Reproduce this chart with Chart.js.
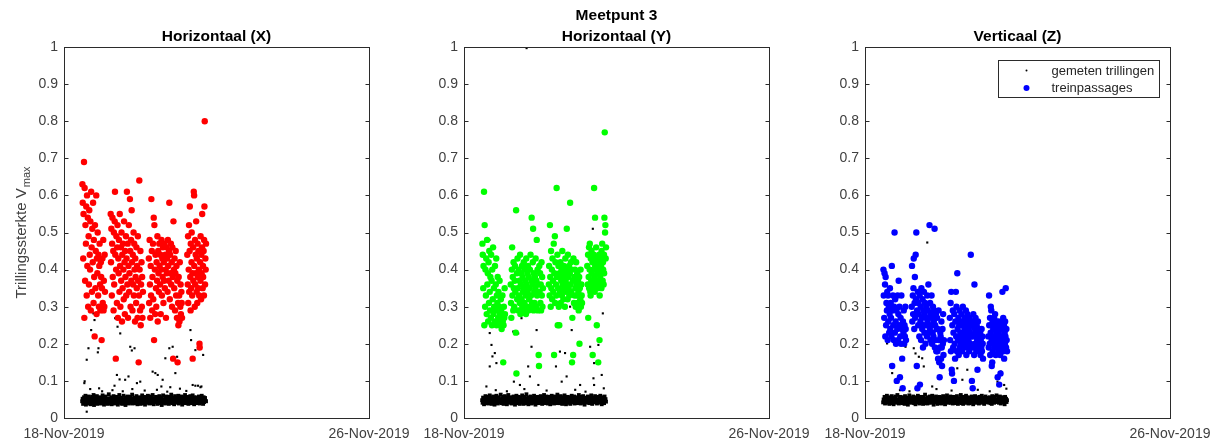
<!DOCTYPE html>
<html>
<head>
<meta charset="utf-8">
<title>Meetpunt 3</title>
<script src="https://cdn.jsdelivr.net/npm/chart.js@4.4.1/dist/chart.umd.min.js"></script>
<style>
  body { margin: 0; background: #fff; }
  #wrap { position: relative; width: 1223px; height: 445px; }
  #wrap canvas { position: absolute; left: 0; top: 0; }
</style>
</head>
<body>
<div id="wrap">
  <canvas id="panelX" width="1223" height="445"></canvas>
  <canvas id="panelY" width="1223" height="445"></canvas>
  <canvas id="panelZ" width="1223" height="445"></canvas>
</div>
<script>
// time axis in hours after 18-Nov-2019 00:00
const datumUren = [0, 192];
const datumLabels = ['18-Nov-2019', '26-Nov-2019'];

// continuous measurement: one Vmax value every 0.3 h, in 0.001 mm/s
const meetStart = 11.4;
const meetStap = 0.3;

const gemetenX = [
  45,52,38,49,56,41,47,60,36,50,44,55,39,48,58,42,46,53,37,51,
  43,57,40,49,62,35,47,54,41,50,45,59,38,52,44,48,56,40,46,53,
  39,51,47,61,42,55,36,49,45,58,41,50,44,53,38,47,64,43,52,40,
  48,56,37,45,51,42,59,46,39,54,47,41,57,44,50,36,53,48,62,43,
  46,52,40,55,38,49,45,60,42,51,47,35,56,44,50,41,58,46,39,53,
  44,50,57,41,48,63,39,52,45,47,55,40,49,43,59,46,37,51,44,54,
  42,56,48,38,53,45,61,40,50,46,57,43,36,52,47,55,41,49,60,44,
  51,39,47,58,43,54,46,40,62,48,37,53,45,50,42,57,44,49,38,55,
  47,43,59,40,52,46,56,35,49,44,61,42,51,48,39,54,45,58,41,50,
  53,46,38,57,44,50,42,63,47,40,55,45,52,37,49,59,43,48,54,41,
  45,51,60,39,47,56,42,50,44,58,36,53,48,41,55,46,62,40,49,52,
  43,57,46,38,54,49,41,59,45,52,40,47,61,44,50,37,56,48,42,53,
  47,55,40,51,44,58,46,39,53,48,42,60,45,50,38,56,43,49,54,46,
  45
];
const gemetenY = [
  48,41,55,44,37,52,46,59,40,50,43,57,47,39,53,45,61,42,49,54,
  38,51,46,58,43,49,36,55,47,41,60,44,52,39,48,56,42,50,45,63,
  47,40,53,45,57,38,50,44,59,42,48,54,37,51,46,62,41,49,55,43,
  52,45,39,56,48,42,58,46,51,36,54,44,60,40,47,53,43,57,49,38,
  44,55,47,41,61,45,50,38,53,46,57,42,49,64,40,52,45,37,56,48,
  50,43,58,46,39,54,47,52,41,60,44,49,36,55,48,42,57,45,51,40,
  46,53,41,59,44,48,38,56,50,43,62,46,40,53,47,58,42,51,39,55,
  43,57,49,37,52,45,60,41,48,54,44,39,58,46,51,42,56,47,63,40,
  51,44,55,40,48,59,43,50,38,56,46,53,41,61,45,49,37,54,47,42,
  57,46,41,53,49,38,55,44,60,47,42,52,45,58,39,50,48,43,56,46,
  40,54,47,62,43,51,45,39,57,48,53,41,59,44,50,36,55,46,52,42,
  49,45,58,41,53,47,40,56,44,61,46,38,52,48,55,43,50,59,42,47,
  54,39,50,46,57,43,48,41,60,45,52,37,56,49,44,53,40,58,47,51,
  44
];
const gemetenZ = [
  42,50,46,57,39,53,44,48,60,41,51,45,56,38,49,54,43,47,59,40,
  52,45,37,55,48,43,58,46,50,41,62,44,49,39,53,47,57,42,51,46,
  40,56,48,44,53,38,59,45,50,42,55,47,36,52,46,61,43,49,54,41,
  47,51,43,58,45,40,54,49,37,56,44,52,46,60,41,48,53,39,57,45,
  55,42,49,46,38,57,44,51,63,40,48,53,45,39,56,47,42,50,58,44,
  41,53,47,60,43,50,36,55,46,49,42,58,45,52,38,54,48,44,57,40,
  49,44,56,39,51,46,59,42,48,53,37,55,47,43,61,45,50,41,54,48,
  46,58,41,50,45,54,39,57,44,48,52,40,56,47,43,59,46,38,53,49,
  43,51,47,62,40,55,45,49,38,57,46,42,53,48,60,41,50,44,56,39,
  52,46,40,54,48,43,58,45,51,37,56,47,42,59,44,49,53,41,55,46,
  48,39,57,44,52,46,41,60,47,50,43,55,38,53,45,58,42,49,46,54,
  45,53,42,49,56,40,51,47,38,59,44,52,48,41,57,46,50,43,61,47,
  50,44,55,41,48,58,45,39,53,47,42,56,49,44,51,37,57,46,52,43,
  48
];

// measured values outside the background band [hour, mm/s]
const piekenX = [
  [12.8,.094],[15.4,.188],[21.7,.188],[14.3,.157],[21.3,.177],[22.1,.080],[18.5,.282],[19.2,.264],[17.1,.237],[13.0,.099],
  [32.2,.269],[33.7,.246],[35.4,.228],[41.7,.192],[44.4,.188],[42.7,.182],[40.6,.112],[33.3,.116],[35.0,.104],[38.5,.103],
  [31.8,.087],[45.9,.094],[48.0,.098],[55.8,.125],[57.5,.121],[59.0,.116],[62.1,.103],[63.8,.161],[66.3,.188],[68.4,.192],
  [71.2,.165],[70.1,.121],[66.9,.083],[61.3,.085],[79.6,.237],[80.0,.210],[82.7,.183],[85.3,.188],[87.6,.170],[81.0,.089],
  [82.7,.087],[84.4,.087],[85.9,.083],[14.3,.017],[16.5,.078],[24.0,.072],[30.5,.075],[37.0,.072],[43.0,.078],[50.8,.074],
  [58.5,.076],[65.0,.071],[73.0,.079],[77.0,.073],[86.5,.085]
];
const piekenY = [
  [16.2,.229],[17.3,.197],[19.4,.175],[20.4,.148],[16.2,.139],[17.9,.166],[14.1,.085],[16.0,.480],[12.9,.440],
  [31.0,.233],[34.1,.228],[36.2,.269],[42.5,.192],[40.4,.139],[41.5,.112],[45.7,.237],[31.4,.098],[35.2,.089],[46.8,.089],[39.4,.997],
  [60.4,.179],[63.6,.175],[67.8,.237],[66.8,.300],[57.9,.139],[64.6,.112],[73.1,.089],[61.5,.098],
  [79.4,.192],[84.6,.197],[81.9,.148],[86.7,.116],[81.5,.107],[81.9,.089],[79.4,.327],[87.4,.282],[81.1,.510],
  [20.0,.075],[27.0,.072],[38.0,.078],[52.0,.074],[70.0,.076],[76.5,.071],[88.0,.080]
];
const piekenZ = [
  [39.2,.473],[16.0,.143],[17.1,.121],[19.2,.098],[30.7,.188],[31.8,.174],[33.9,.165],[36.0,.161],[37.0,.139],[42.3,.085],
  [58.1,.134],[59.2,.165],[64.4,.130],[61.3,.103],[67.6,.080],[80.2,.139],[83.4,.098],[87.6,.089],[85.5,.125],[13.9,.201],
  [25.5,.192],[22.0,.075],[28.0,.072],[45.0,.078],[54.5,.074],[71.0,.076],[78.5,.072],[89.0,.079]
];

// detected train passages: time (h) and Vmax per direction (mm/s)
const passageUren = [
  11.6,11.8,12.1,12.3,12.6,12.8,13.0,13.3,13.5,13.8,
  14.0,14.3,14.5,14.7,15.0,15.2,15.5,15.7,15.9,16.2,
  16.4,16.6,16.9,17.1,17.4,17.6,17.8,18.1,18.3,18.6,
  18.8,19.0,19.3,19.5,19.8,20.0,20.3,20.5,20.7,21.0,
  21.2,21.5,21.7,22.0,22.2,22.4,22.7,22.9,23.2,23.4,
  23.7,23.9,24.2,24.4,24.7,24.9,25.1,25.4,25.6,25.8,
  29.4,29.6,29.8,30.1,30.3,30.5,30.7,31.0,31.2,31.4,
  31.6,31.9,32.1,32.3,32.6,32.8,33.0,33.3,33.5,33.7,
  33.9,34.2,34.4,34.6,34.9,35.1,35.3,35.5,35.8,36.0,
  36.2,36.5,36.7,36.9,37.1,37.4,37.6,37.8,38.1,38.3,
  38.5,38.7,39.0,39.2,39.4,39.6,39.9,40.1,40.3,40.6,
  40.8,41.0,41.2,41.5,41.7,41.9,42.2,42.4,42.6,42.8,
  43.1,43.3,43.5,43.8,44.0,44.2,44.4,44.7,44.9,45.1,
  45.4,45.6,45.8,46.0,46.3,46.5,46.7,47.0,47.2,47.4,
  47.6,47.9,48.1,48.3,48.5,48.8,49.0,49.2,49.4,49.7,
  53.4,53.6,53.9,54.1,54.3,54.6,54.8,55.0,55.3,55.5,
  55.7,56.0,56.2,56.5,56.7,56.9,57.2,57.4,57.6,57.9,
  58.1,58.3,58.6,58.8,59.0,59.3,59.5,59.7,60.0,60.2,
  60.5,60.7,60.9,61.2,61.4,61.6,61.9,62.1,62.3,62.6,
  62.8,63.0,63.3,63.5,63.8,64.0,64.2,64.5,64.7,64.9,
  65.2,65.4,65.6,65.9,66.1,66.3,66.6,66.8,67.0,67.3,
  67.5,67.8,68.0,68.2,68.5,68.7,68.9,69.2,69.4,69.6,
  69.9,70.1,70.3,70.6,70.8,71.1,71.3,71.5,71.8,72.0,
  72.2,72.5,72.7,72.9,73.2,73.4,73.6,73.9,74.1,74.3,
  77.6,77.9,78.1,78.2,78.5,78.7,78.8,79.1,79.2,79.5,
  79.7,79.8,80.1,80.3,80.4,80.7,80.9,81.0,81.3,81.4,
  81.7,81.9,82.0,82.3,82.5,82.6,82.9,83.1,83.2,83.5,
  83.6,83.9,84.1,84.2,84.5,84.6,84.9,85.1,85.3,85.4,
  85.7,85.9,86.0,86.3,86.5,86.6,86.9,87.0,87.3,87.5,
  87.6,87.9,88.1,88.2,88.4,88.6,88.8,89.0,89.2,89.4
];
const passageX = [
  .63,.58,.43,.55,.69,.27,.62,.37,.52,.47,
  .57,.33,.60,.41,.54,.30,.49,.36,.56,.44,
  .40,.53,.29,.61,.46,.34,.51,.42,.58,.31,
  .48,.38,.22,.52,.35,.45,.60,.28,.43,.39,
  .50,.33,.44,.30,.41,.47,.36,.29,.42,.38,
  .21,.35,.43,.31,.48,.29,.37,.30,.44,.34,
  .55,.42,.51,.33,.47,.54,.38,.45,.29,.50,
  .36,.53,.61,.44,.16,.40,.49,.31,.46,.52,
  .27,.43,.39,.48,.34,.55,.41,.30,.46,.37,
  .50,.26,.44,.35,.47,.40,.32,.53,.42,.28,
  .45,.38,.49,.33,.43,.61,.36,.47,.27,.41,
  .52,.34,.39,.59,.45,.30,.48,.37,.56,.42,
  .29,.44,.36,.50,.33,.47,.40,.26,.43,.38,
  .31,.46,.35,.41,.27,.49,.37,.15,.33,.64,
  .40,.29,.45,.25,.36,.42,.30,.38,.27,.34,
  .43,.31,.48,.36,.27,.41,.33,.59,.45,.29,
  .38,.47,.32,.54,.21,.52,.40,.28,.44,.35,
  .30,.42,.37,.49,.26,.45,.39,.34,.47,.41,
  .36,.44,.28,.40,.48,.33,.43,.38,.46,.31,
  .42,.37,.47,.35,.44,.40,.27,.46,.39,.43,
  .34,.48,.41,.37,.45,.58,.32,.44,.39,.47,
  .36,.42,.30,.46,.38,.16,.53,.40,.35,.43,
  .29,.39,.45,.33,.41,.27,.37,.15,.31,.25,
  .38,.33,.26,.42,.30,.36,.28,.34,.31,.27,
  .44,.36,.49,.31,.40,.52,.34,.45,.57,.38,
  .29,.47,.35,.42,.50,.33,.39,.16,.46,.37,
  .61,.60,.41,.30,.48,.36,.44,.39,.53,.34,
  .43,.31,.47,.38,.35,.45,.40,.33,.20,.19,
  .42,.37,.49,.32,.44,.39,.46,.55,.35,.41,
  .38,.45,.33,.48,.57,.80,.36,.43,.40,.47
];
const passageY = [
  .47,.44,.35,.41,.61,.25,.52,.30,.40,.33,
  .43,.28,.48,.36,.39,.26,.42,.31,.45,.34,
  .29,.38,.27,.44,.37,.25,.40,.32,.46,.28,
  .35,.30,.26,.41,.29,.36,.43,.25,.33,.31,
  .38,.27,.34,.26,.30,.37,.28,.25,.32,.29,
  .24,.27,.33,.26,.15,.25,.30,.27,.35,.28,
  .36,.31,.27,.40,.46,.33,.38,.29,.42,.35,
  .30,.37,.41,.34,.23,.56,.12,.39,.32,.43,
  .35,.29,.40,.33,.37,.31,.44,.28,.36,.39,
  .32,.41,.30,.38,.34,.29,.42,.35,.31,.40,
  .37,.33,.28,.43,.36,.30,.39,.34,.41,.29,
  .38,.32,.35,.40,.30,.44,.33,.37,.54,.31,
  .36,.42,.51,.29,.39,.34,.31,.38,.35,.43,
  .30,.37,.48,.33,.40,.29,.36,.17,.14,.41,
  .34,.39,.31,.36,.29,.42,.33,.38,.30,.35,
  .36,.41,.33,.52,.38,.30,.45,.35,.40,.32,
  .43,.37,.34,.47,.17,.39,.49,.31,.42,.36,
  .33,.62,.38,.44,.25,.35,.41,.30,.25,.39,
  .34,.42,.31,.37,.40,.33,.45,.36,.38,.32,
  .41,.35,.39,.30,.43,.37,.34,.40,.51,.36,
  .32,.44,.38,.35,.41,.33,.39,.58,.36,.42,
  .34,.40,.15,.27,.37,.17,.43,.31,.38,.33,
  .40,.35,.30,.42,.36,.33,.39,.31,.37,.34,
  .29,.38,.20,.35,.32,.40,.30,.36,.33,.31,
  .41,.36,.44,.27,.38,.46,.35,.40,.47,.34,
  .33,.43,.37,.45,.39,.36,.42,.17,.40,.35,
  .44,.62,.38,.34,.54,.41,.37,.43,.46,.36,
  .25,.39,.42,.35,.15,.40,.37,.44,.21,.33,
  .38,.43,.36,.41,.35,.45,.39,.47,.37,.42,
  .40,.36,.44,.39,.54,.77,.50,.52,.43,.46
];
const passageZ = [
  .40,.33,.27,.39,.36,.22,.38,.25,.31,.29,
  .34,.21,.33,.26,.30,.23,.28,.35,.24,.31,
  .27,.22,.41,.14,.29,.33,.25,.21,.30,.50,
  .23,.32,.26,.20,.29,.10,.24,.33,.21,.28,
  .37,.25,.30,.11,.22,.27,.20,.33,.24,.16,
  .08,.26,.23,.29,.20,.25,.22,.30,.24,.21,
  .30,.41,.26,.33,.28,.35,.43,.24,.31,.38,
  .27,.44,.32,.50,.14,.29,.08,.34,.25,.31,
  .28,.22,.33,.09,.26,.30,.21,.35,.27,.24,
  .32,.19,.29,.25,.34,.23,.28,.31,.20,.27,
  .25,.30,.22,.33,.26,.29,.36,.23,.27,.52,
  .24,.31,.21,.28,.25,.33,.20,.27,.23,.30,
  .22,.26,.29,.51,.19,.25,.21,.28,.18,.24,
  .27,.18,.24,.16,.29,.21,.15,.11,.19,.23,
  .22,.16,.26,.19,.14,.24,.20,.28,.17,.21,
  .27,.21,.31,.18,.34,.13,.12,.25,.29,.19,
  .23,.10,.28,.20,.16,.26,.34,.22,.30,.18,
  .39,.24,.21,.27,.17,.25,.29,.19,.23,.26,
  .20,.28,.22,.18,.25,.30,.21,.26,.19,.24,
  .27,.20,.23,.29,.17,.25,.22,.28,.19,.26,
  .21,.24,.18,.27,.23,.20,.44,.25,.22,.10,
  .26,.08,.19,.28,.22,.17,.36,.24,.20,.27,
  .23,.18,.25,.21,.13,.26,.19,.22,.24,.18,
  .20,.23,.17,.21,.19,.24,.18,.22,.20,.16,
  .22,.19,.33,.25,.20,.27,.17,.23,.30,.29,
  .21,.14,.15,.26,.18,.24,.20,.22,.27,.19,
  .25,.28,.21,.17,.26,.23,.19,.24,.22,.11,
  .20,.26,.18,.23,.09,.21,.25,.17,.12,.24,
  .19,.22,.26,.20,.34,.24,.18,.27,.21,.25,
  .16,.23,.20,.26,.22,.35,.19,.24,.21,.18
];

const FONT = '"Liberation Sans", Arial, Helvetica, sans-serif';
Chart.defaults.font.family = FONT;
Chart.defaults.font.size = 14;

function gemetenPunten(band, pieken) {
  const pts = band.map((v, i) => ({ x: meetStart + i * meetStap, y: v / 1000 }));
  pieken.forEach(([u, v]) => pts.push({ x: u, y: v }));
  return pts;
}

function passagePunten(waarden) {
  return passageUren.map((u, i) => ({ x: u, y: waarden[i] }));
}

// box, inward ticks, titles, y label and legend in MATLAB style
const matlabAxes = {
  id: 'matlabAxes',
  afterDraw(chart, args, opts) {
    const { ctx, chartArea: a, scales } = chart;
    const l = Math.round(a.left) + 0.5, r = Math.round(a.right) + 0.5;
    const t = Math.round(a.top) + 0.5, b = Math.round(a.bottom) + 0.5;
    ctx.save();
    ctx.strokeStyle = '#2b2b2b';
    ctx.lineWidth = 1;
    ctx.strokeRect(l, t, r - l, b - t);
    ctx.beginPath();
    scales.y.ticks.forEach(tk => {
      const y = Math.round(scales.y.getPixelForValue(tk.value)) + 0.5;
      ctx.moveTo(l, y); ctx.lineTo(l + 4, y);
      ctx.moveTo(r, y); ctx.lineTo(r - 4, y);
    });
    ctx.stroke();

    const cx = (a.left + a.right) / 2;
    ctx.fillStyle = '#000';
    ctx.font = 'bold 15.5px ' + FONT;
    ctx.textAlign = 'center';
    ctx.textBaseline = 'middle';
    const n = opts.titel.length;
    opts.titel.forEach((regel, i) => ctx.fillText(regel, cx, a.top - 10.5 - (n - 1 - i) * 20.5));

    if (opts.yLabel) {
      const cy = (a.top + a.bottom) / 2;
      ctx.fillStyle = '#404040';
      ctx.textAlign = 'left';
      ctx.textBaseline = 'alphabetic';
      ctx.font = '15px ' + FONT;
      const w1 = ctx.measureText(opts.yLabel[0]).width;
      ctx.font = '11px ' + FONT;
      const w2 = ctx.measureText(opts.yLabel[1]).width;
      ctx.translate(a.left - 38, cy + (w1 + w2 + 1) / 2);
      ctx.rotate(-Math.PI / 2);
      ctx.font = '15px ' + FONT;
      ctx.fillText(opts.yLabel[0], 0, 0);
      ctx.font = '11px ' + FONT;
      ctx.fillText(opts.yLabel[1], w1 + 1, 4);
      ctx.setTransform(1, 0, 0, 1, 0, 0);
    }

    if (opts.legenda) {
      const bx = Math.round(a.right - 172) + 0.5, by = Math.round(a.top + 13) + 0.5;
      ctx.fillStyle = '#fff';
      ctx.fillRect(bx, by, 161, 37);
      ctx.strokeStyle = '#2b2b2b';
      ctx.strokeRect(bx, by, 161, 37);
      ctx.font = '13px ' + FONT;
      ctx.textAlign = 'left';
      ctx.textBaseline = 'middle';
      opts.legenda.forEach((item, i) => {
        const y = by + 10 + i * 17.5;
        ctx.fillStyle = item.kleur;
        ctx.beginPath();
        ctx.arc(bx + 28, y, item.r, 0, Math.PI * 2);
        ctx.fill();
        ctx.fillStyle = '#262626';
        ctx.fillText(item.tekst, bx + 53, y + 0.5);
      });
    }
    ctx.restore();
  }
};

function maakPanel(id, plotLeft, band, pieken, waarden, kleur, extra) {
  return new Chart(document.getElementById(id), {
    type: 'scatter',
    data: {
      datasets: [
        {
          label: 'gemeten trillingen',
          data: gemetenPunten(band, pieken),
          backgroundColor: '#000',
          pointStyle: 'rect',
          // the dense background band is drawn a bit heavier than single peaks
          pointRadius: c => (c.dataIndex < band.length ? 2.7 : 1.5),
          pointBorderWidth: 0,
          order: 2
        },
        {
          label: 'treinpassages',
          data: passagePunten(waarden),
          backgroundColor: kleur,
          pointRadius: 3.2,
          pointBorderWidth: 0,
          order: 1
        }
      ]
    },
    options: {
      responsive: false,
      animation: false,
      devicePixelRatio: 1,
      layout: { padding: { left: plotLeft - 40, right: 1223 - plotLeft - 305, top: 47, bottom: 0 } },
      plugins: {
        legend: { display: false },
        tooltip: { enabled: false },
        matlabAxes: extra
      },
      scales: {
        x: {
          type: 'linear',
          min: datumUren[0],
          max: datumUren[datumUren.length - 1],
          afterBuildTicks: s => { s.ticks = datumUren.map(v => ({ value: v })); },
          afterFit: s => { s.height = 27; },
          grid: { display: false, drawTicks: false },
          border: { display: false },
          ticks: {
            autoSkip: false,
            maxRotation: 0,
            padding: 8,
            color: '#404040',
            callback: v => datumLabels[datumUren.indexOf(v)]
          }
        },
        y: {
          min: 0,
          max: 1,
          afterFit: s => { s.width = 40; },
          grid: { display: false, drawTicks: false },
          border: { display: false },
          ticks: {
            stepSize: 0.1,
            padding: 6,
            color: '#404040',
            callback: v => String(Math.round(v * 10) / 10)
          }
        }
      }
    },
    plugins: [matlabAxes]
  });
}

maakPanel('panelX', 64, gemetenX, piekenX, passageX, '#ff0000', {
  titel: ['Horizontaal (X)'],
  yLabel: ['Trillingssterkte V', 'max']
});
maakPanel('panelY', 464, gemetenY, piekenY, passageY, '#00ff00', {
  titel: ['Meetpunt 3', 'Horizontaal (Y)']
});
maakPanel('panelZ', 865, gemetenZ, piekenZ, passageZ, '#0000ff', {
  titel: ['Verticaal (Z)'],
  legenda: [
    { tekst: 'gemeten trillingen', kleur: '#000', r: 1 },
    { tekst: 'treinpassages', kleur: '#0000ff', r: 3 }
  ]
});
</script>
</body>
</html>
